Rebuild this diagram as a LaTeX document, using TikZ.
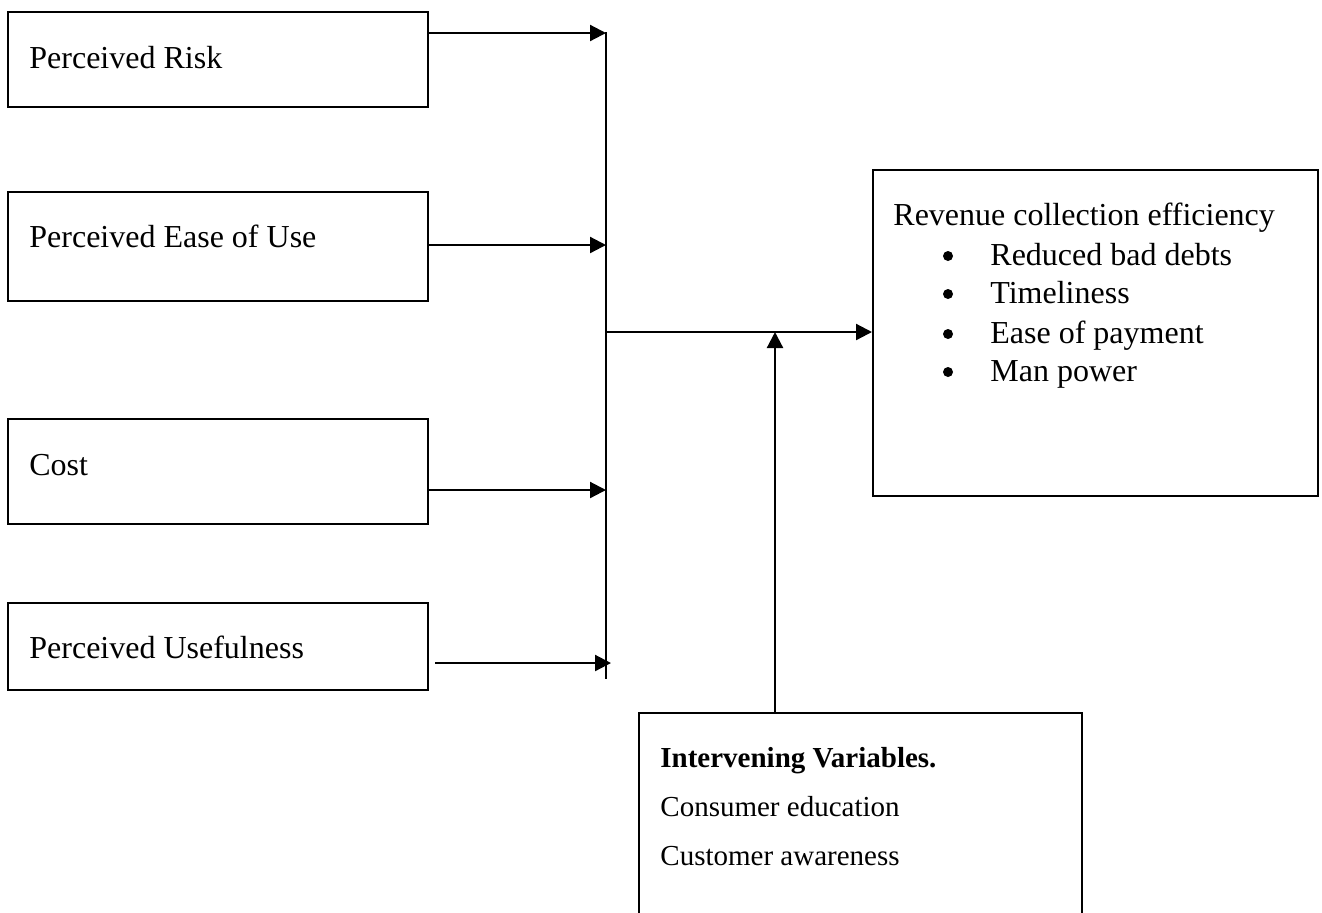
\documentclass[tikz,border=0pt]{standalone}
\usepackage{fontspec}
\setmainfont{Liberation Serif}
\usetikzlibrary{arrows.meta}
\begin{document}
\begin{tikzpicture}[x=0.5pt,y=-0.5pt,
  box/.style={draw,line width=1pt,inner sep=0pt,rectangle},
  lbl/.style={anchor=base west,inner sep=0pt,font=\fontsize{16}{19}\selectfont},
  ilbl/.style={anchor=base west,inner sep=0pt,font=\fontsize{14.5}{17}\selectfont},
  dot/.style={circle,fill,inner sep=0pt,minimum size=5pt},
  conn/.style={line width=1.1pt},
  arr/.style={line width=1.1pt,-{Triangle[length=8pt,width=8pt]}}]
\useasboundingbox (0,0) rectangle (1322,912);
\clip (0,0) rectangle (1322,912);
% boxes
\node[box,minimum width=210pt,minimum height=47.5pt] (r1) at (218,59.5) {};
\node[box,minimum width=210pt,minimum height=54.5pt] (r2) at (218,246.5) {};
\node[box,minimum width=210pt,minimum height=52.5pt] (r3) at (218,471.5) {};
\node[box,minimum width=210pt,minimum height=43.5pt] (r4) at (218,646.5) {};
\node[box,minimum width=222.5pt,minimum height=163pt] (rev) at (1095.5,333) {};
\node[box,minimum width=221.5pt,minimum height=110pt] (iv) at (860.5,823) {};
% texts
\node[lbl] (t1) at (29,68) {Perceived Risk};
\node[lbl] (t2) at (29,247) {Perceived Ease of Use};
\node[lbl] (t3) at (29,475) {Cost};
\node[lbl] (t4) at (29,658) {Perceived Usefulness};
\node[lbl] (rt) at (893,225) {Revenue collection efficiency};
\foreach \y/\t [count=\i] in {265/Reduced bad debts,303/Timeliness,343/Ease of payment,381/Man power}{
  \node[dot] (b\i) at (948,\y-9) {};
  \node[lbl] (bt\i) at (990,\y) {\t};
}
\node[ilbl,font=\fontsize{14.5}{17}\selectfont\bfseries] (it) at (660,767) {Intervening Variables.};
\node[ilbl] (i1) at (660,816) {Consumer education};
\node[ilbl] (i2) at (660,865) {Customer awareness};
% connectors
\coordinate (vtop) at (606,32);
\coordinate (vbot) at (606,679);
\coordinate (j1) at (606,33);
\coordinate (j2) at (606,245);
\coordinate (j3) at (606,490);
\coordinate (j4) at (611,663);
\coordinate (jm) at (606,332);
\coordinate (jv) at (775,332);
\draw[conn] (vtop) -- (vbot);
\draw[arr] (r1.east |- j1) -- (j1);
\draw[arr] (r2.east |- j2) -- (j2);
\draw[arr] (r3.east |- j3) -- (j3);
\draw[arr] ([xshift=3pt]r4.east |- j4) -- (j4);
\draw[arr] (jm) -- (rev.west |- jm);
\draw[arr] (iv.north -| jv) -- (jv);
\end{tikzpicture}
\end{document}
